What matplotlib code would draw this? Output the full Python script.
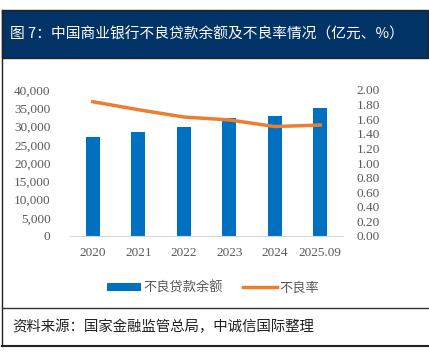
import matplotlib.pyplot as plt
import numpy as np
from matplotlib.patches import Rectangle
from matplotlib.lines import Line2D

plt.rcParams['font.family'] = ['Noto Sans CJK SC', 'DejaVu Sans']

# datos
anios = ['2020', '2021', '2022', '2023', '2024', '2025.09']
saldo = [27015, 28470, 29829, 32256, 32837, 35200]   # 不良贷款余额 (亿元)
tasa = [1.84, 1.73, 1.63, 1.59, 1.50, 1.52]          # 不良率 (%)

azul = '#0070C0'
naranja = '#ED7D31'
gris = '#595959'
num_font = 'Liberation Serif'

fig = plt.figure(figsize=(4.29, 3.59), dpi=100)
W, H = 429, 359

def fx(px):
    return px / W

def fy(py):
    return 1 - py / H

# barra del titulo
fig.patches.append(Rectangle((fx(2), fy(58)), fx(426), 48 / H, transform=fig.transFigure,
                             facecolor='#023366', edgecolor='#222222', linewidth=1))
fig.text(fx(10), fy(34), '图 7：中国商业银行不良贷款余额及不良率情况（亿元、%）',
         color='white', fontsize=10.6, va='center', ha='left')

# marco
fig.lines.append(Line2D([fx(2), fx(2)], [fy(10), fy(346)], transform=fig.transFigure,
                        color='#222222', linewidth=1))
fig.lines.append(Line2D([fx(2), fx(429)], [fy(308), fy(308)], transform=fig.transFigure,
                        color='#333333', linewidth=1))
fig.lines.append(Line2D([fx(2), fx(429)], [fy(346), fy(346)], transform=fig.transFigure,
                        color='#222222', linewidth=1.5))

fig.text(fx(12), fy(327), '资料来源：国家金融监管总局，中诚信国际整理',
         color='#222222', fontsize=10.4, va='center', ha='left', style='italic')

# grafico
ax = fig.add_axes([fx(70), fy(236), fx(273), 146 / H])
x = np.arange(len(anios))
ax.bar(x, saldo, width=0.31, color=azul, label='不良贷款余额', zorder=2)
ax.set_ylim(0, 40000)
ax.set_xlim(-0.5, len(anios) - 0.5)
ax.set_yticks(np.arange(0, 40001, 5000))
ax.set_yticklabels([f'{v:,}' for v in range(0, 40001, 5000)])
ax.set_xticks(x)
ax.set_xticklabels(anios)

for s in ['top', 'right', 'left']:
    ax.spines[s].set_visible(False)
ax.spines['bottom'].set_color('#D9D9D9')
ax.tick_params(axis='both', length=0, colors=gris, labelsize=9.5)
ax.tick_params(axis='y', pad=14)
ax.tick_params(axis='x', pad=8)
for lbl in ax.get_xticklabels() + ax.get_yticklabels():
    lbl.set_fontfamily(num_font)

ax2 = ax.twinx()
ax2.plot(x, tasa, color=naranja, linewidth=2.5, label='不良率', zorder=3)
ax2.set_ylim(0, 2)
ax2.set_yticks(np.arange(0, 2.01, 0.2))
ax2.set_yticklabels([f'{v:.2f}' for v in np.arange(0, 2.01, 0.2)])
for s in ['top', 'right', 'left', 'bottom']:
    ax2.spines[s].set_visible(False)
ax2.tick_params(axis='y', length=0, colors=gris, labelsize=9.5, pad=10)
for lbl in ax2.get_yticklabels():
    lbl.set_fontfamily(num_font)

h1, l1 = ax.get_legend_handles_labels()
h2, l2 = ax2.get_legend_handles_labels()
fig.legend(h1 + h2, l1 + l2, loc='center', bbox_to_anchor=(fx(213), fy(288)), ncol=2,
           frameon=False, fontsize=9.5, labelcolor=gris, handlelength=2.6,
           handleheight=0.5, handletextpad=0.2, columnspacing=1.5)

fig.savefig('out.png', dpi=100)
